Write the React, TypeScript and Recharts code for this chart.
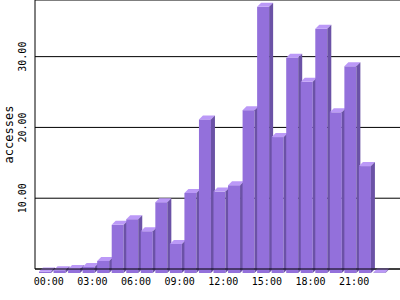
import { BarChart, Bar, XAxis, YAxis, CartesianGrid } from "recharts";

const hours = [
  "00:00", "01:00", "02:00", "03:00", "04:00", "05:00", "06:00", "07:00",
  "08:00", "09:00", "10:00", "11:00", "12:00", "13:00", "14:00", "15:00",
  "16:00", "17:00", "18:00", "19:00", "20:00", "21:00", "22:00", "23:00",
];
const accesses = [
  0.2, 0.4, 0.55, 0.85, 1.7, 6.8, 7.6, 5.9, 10.0, 4.1, 11.3, 21.7,
  11.5, 12.4, 23.0, 37.6, 19.2, 30.4, 27.0, 34.5, 22.7, 29.2, 15.1, 0.1,
];
const yTicks = [10, 20, 30];

const data = hours.map((h, i) => ({ hour: h, accesses: accesses[i] }));

const FONT = "'DejaVu Sans Mono', monospace";
const D = 4; // 3d depth

function Bar3D(props: any) {
  const { x, y, width: w, height: h } = props;
  if (x == null || y == null) return null;
  const fx = x - D;
  const fy = y + D;
  return (
    <g>
      <rect x={fx} y={fy} width={w} height={Math.max(h, 0)} fill="#9370db" />
      <polygon
        points={`${fx},${fy} ${x},${y} ${x + w},${y} ${fx + w},${fy}`}
        fill="#bb99f7"
      />
      <polygon
        points={`${fx + w},${fy} ${x + w},${y} ${x + w},${y + h} ${fx + w},${fy + h}`}
        fill="#6b52a6"
      />
    </g>
  );
}

function YTick({ x, y, payload }: any) {
  return (
    <text
      x={22.5}
      y={y}
      transform={`rotate(-90 22.5 ${y})`}
      textAnchor="middle"
      dominantBaseline="central"
      fontFamily={FONT}
      fontSize={10}
      fill="#000"
    >
      {Number(payload.value).toFixed(2)}
    </text>
  );
}

function XTick({ x, payload }: any) {
  return (
    <text
      x={x - 0.5}
      y={281}
      textAnchor="middle"
      dominantBaseline="central"
      fontFamily={FONT}
      fontSize={10}
      fill="#000"
    >
      {payload.value}
    </text>
  );
}

export default function App() {
  return (
    <div style={{ position: "absolute", left: 0, top: 0, width: 400, height: 300, background: "#fff" }}>
      <BarChart width={400} height={300} data={data} margin={{ top: 0, right: 0, bottom: 0, left: 0 }} barSize={12}>
        <CartesianGrid vertical={false} stroke="#000" strokeOpacity={1} />
        <XAxis
          dataKey="hour"
          height={31}
          interval={2}
          tickLine={false}
          axisLine={{ stroke: "#000" }}
          padding={{ left: 7, right: 9 }}
          tick={<XTick />}
        />
        <YAxis
          width={35}
          domain={[0, 38]}
          ticks={yTicks}
          tickLine={false}
          axisLine={{ stroke: "#000" }}
          tick={<YTick />}
          label={{
            value: "accesses",
            angle: -90,
            position: "insideLeft",
            dx: 4,
            dy: 0,
            style: { fontFamily: FONT, fontSize: 12, fill: "#000", textAnchor: "middle" },
          }}
        />
        <Bar dataKey="accesses" shape={<Bar3D />} isAnimationActive={false} />
      </BarChart>
    </div>
  );
}
